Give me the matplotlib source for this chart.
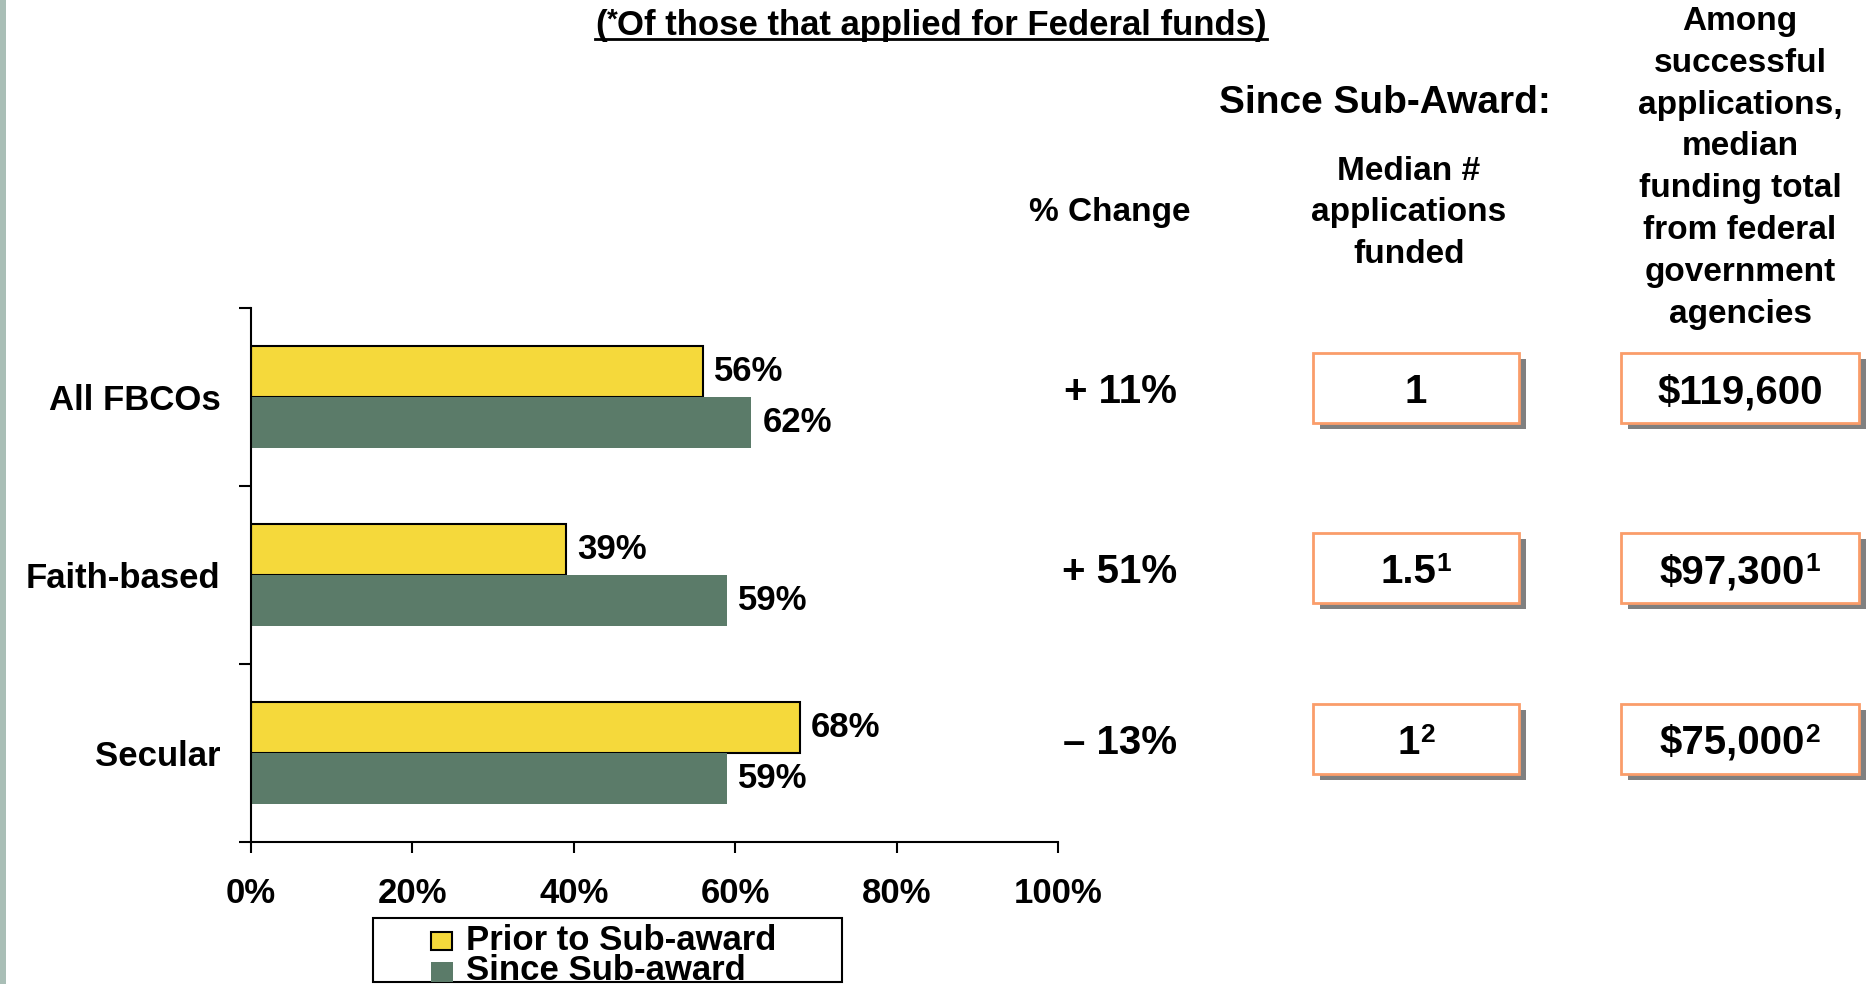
import matplotlib
matplotlib.use('Agg')
import matplotlib.pyplot as plt
from matplotlib.patches import Rectangle
from matplotlib.lines import Line2D
import numpy as np

W, H = 1872, 984

categories = ['All FBCOs', 'Faith-based', 'Secular']
prior_pct = [56, 39, 68]
since_pct = [62, 59, 59]
pct_change = ['+ 11%', '+ 51%', '\u2013 13%']
median_apps = ['1', '1.5', '1']
median_funding = ['$119,600', '$97,300', '$75,000']
footnotes = ['', '1', '2']
x_ticks = [0, 20, 40, 60, 80, 100]
series_names = ['Prior to Sub-award', 'Since Sub-award']

header_change = '% Change'
header_since = 'Since Sub-Award:'
header_median = ['Median #', 'applications', 'funded']
header_funding = ['Among', 'successful', 'applications,', 'median',
                  'funding total', 'from federal', 'government', 'agencies']
title_rest = 'Of those that applied for Federal funds)'

YELLOW = '#F5D93B'
GREEN = '#5B7B69'
ORANGE = '#FA9D6A'
SHADOW = '#808080'

plt.rcParams['font.family'] = ['Liberation Sans', 'DejaVu Sans']
plt.rcParams['font.weight'] = 'bold'


def fx(px):
    return px / W


def fy(py):
    return 1 - py / H


fig = plt.figure(figsize=(W / 100, H / 100), dpi=100)
fig.patch.set_facecolor('white')
r = fig.canvas.get_renderer()


def text_with_sup(xc, base, main, sup, size, sup_size=19, rise=12):
    # centred text with an optional superscript footnote mark
    t = fig.text(0, fy(base), main, fontsize=size, va='baseline')
    w_main = t.get_window_extent(r).width
    w_sup = 0
    s = None
    if sup:
        s = fig.text(0, fy(base - rise), sup, fontsize=sup_size, va='baseline')
        w_sup = s.get_window_extent(r).width
    left = xc - (w_main + w_sup) / 2
    t.set_x(fx(left))
    if s is not None:
        s.set_x(fx(left + w_main))


# left decorative strip
fig.add_artist(Rectangle((0, 0), fx(6), 1, transform=fig.transFigure,
                         facecolor='#A9BEB6', edgecolor='none'))

# --- bar chart ---
ax = fig.add_axes([fx(251), fy(842), fx(1058) - fx(251), fy(308) - fy(842)])
y = np.arange(len(categories))
h = 0.285
b1 = ax.barh(y - h / 2, prior_pct, height=h, color=YELLOW, edgecolor='black', linewidth=1.5)
b2 = ax.barh(y + h / 2, since_pct, height=h, color=GREEN, edgecolor='none')
for bars in (b1, b2):
    ax.bar_label(bars, fmt='{:.0f}%', padding=8, fontsize=25, fontweight='bold')

ax.set_xlim(0, 100)
ax.set_ylim(2.5, -0.5)
ax.set_xticks(x_ticks)
ax.set_xticklabels([f'{t}%' for t in x_ticks])
ax.tick_params(axis='x', length=8, width=1.5, pad=17, labelsize=25)
ax.set_yticks(y)
ax.set_yticklabels(categories)
ax.tick_params(axis='y', which='major', length=0, pad=22, labelsize=25)
ax.set_yticks([-0.5, 0.5, 1.5, 2.5], minor=True)
ax.tick_params(axis='y', which='minor', length=9, width=1.5)
for s in ('top', 'right'):
    ax.spines[s].set_visible(False)
for s in ('left', 'bottom'):
    ax.spines[s].set_linewidth(1.5)

# --- right hand table ---
row_y = [388, 568, 739]
for txt, ry in zip(pct_change, row_y):
    fig.text(fx(1120), fy(ry + 15), txt, fontsize=29, ha='center', va='baseline')

box_cols = [(1313, 1519, median_apps), (1621, 1859, median_funding)]
for x0, x1, vals in box_cols:
    for txt, note, ry in zip(vals, footnotes, row_y):
        top, bot = ry - 35, ry + 35
        fig.add_artist(Rectangle((fx(x0 + 7), fy(bot + 6)), fx(x1 - x0), (bot - top) / H,
                                 transform=fig.transFigure, facecolor=SHADOW, edgecolor='none'))
        fig.add_artist(Rectangle((fx(x0), fy(bot)), fx(x1 - x0), (bot - top) / H,
                                 transform=fig.transFigure, facecolor='white',
                                 edgecolor=ORANGE, linewidth=2))
        text_with_sup((x0 + x1) / 2, ry + 15, txt, note, 29)

# headers
fig.text(fx(1385), fy(103), header_since, fontsize=28, ha='center', va='center')
fig.text(fx(1110), fy(212), header_change, fontsize=24, ha='center', va='center')
for i, line in enumerate(header_median):
    fig.text(fx(1409), fy(171 + 41.8 * i), line, fontsize=24, ha='center', va='center')
for i, line in enumerate(header_funding):
    fig.text(fx(1740), fy(21.5 + 41.8 * i), line, fontsize=24, ha='center', va='center')

# title with superscript asterisk and underline
tx = 595
t1 = fig.text(fx(tx), fy(35), '(', fontsize=25, va='baseline')
bb1 = t1.get_window_extent(r)
t2 = fig.text(bb1.x1 / W, fy(28), '*', fontsize=20, va='baseline')
bb2 = t2.get_window_extent(r)
t3 = fig.text(bb2.x1 / W, fy(35), title_rest, fontsize=25, va='baseline')
bb3 = t3.get_window_extent(r)
fig.add_artist(Line2D([fx(tx), bb3.x1 / W], [fy(39), fy(39)], transform=fig.transFigure,
                      color='black', linewidth=2))

# legend box
fig.add_artist(Rectangle((fx(373), fy(982)), fx(842 - 373), (982 - 918) / H,
                         transform=fig.transFigure, facecolor='white',
                         edgecolor='black', linewidth=1.5))
fig.add_artist(Rectangle((fx(431), fy(950)), fx(21), 18 / H, transform=fig.transFigure,
                         facecolor=YELLOW, edgecolor='black', linewidth=1.5))
fig.add_artist(Rectangle((fx(431), fy(982)), fx(22), 20 / H, transform=fig.transFigure,
                         facecolor=GREEN, edgecolor='none'))
fig.text(fx(466), fy(950), series_names[0], fontsize=25, va='baseline')
fig.text(fx(466), fy(980), series_names[1], fontsize=25, va='baseline')

fig.savefig('out.png', dpi=100)
